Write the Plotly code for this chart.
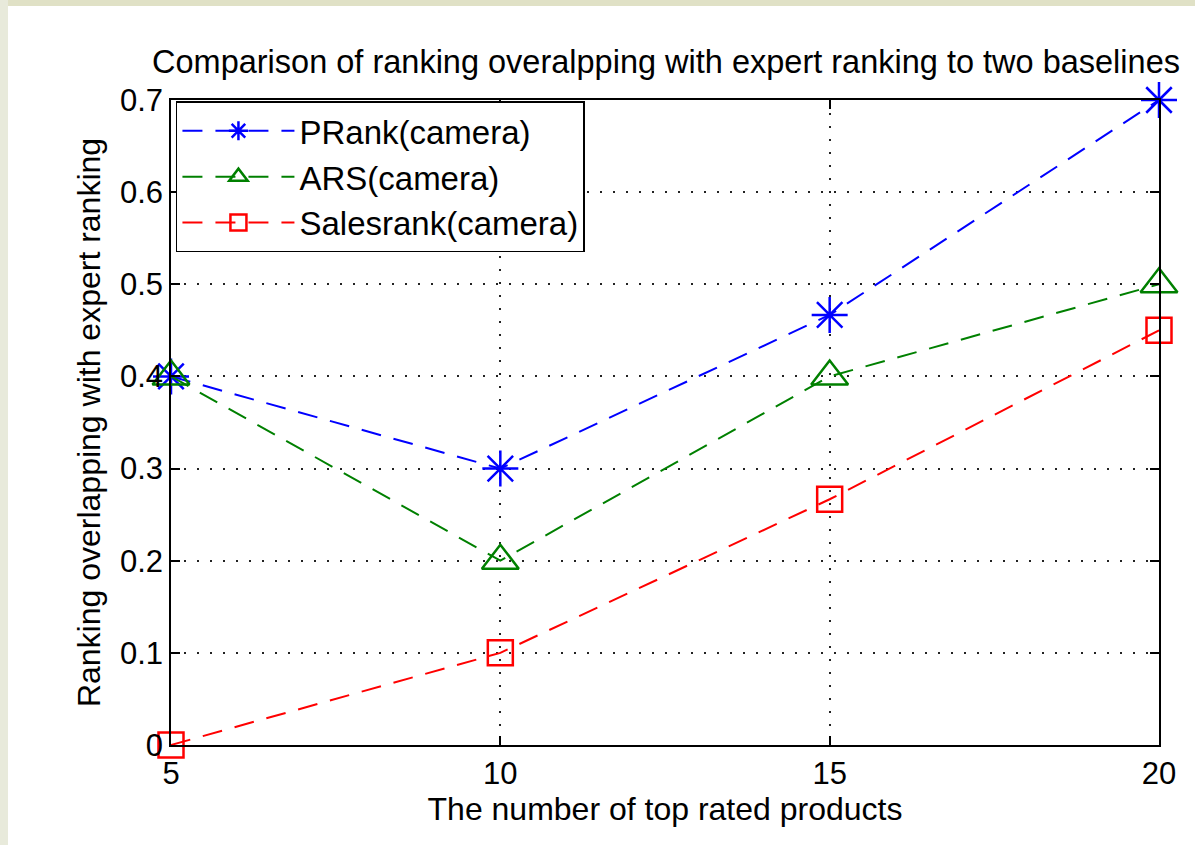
import plotly.graph_objects as go

x_vals = [5, 10, 15, 20]
prank = [0.4, 0.3, 0.4667, 0.7]
ars = [0.4, 0.2, 0.4, 0.5]
salesrank = [0.0, 0.1, 0.2667, 0.45]
names = ["PRank(camera)", "ARS(camera)", "Salesrank(camera)"]
colors = ["#0000ff", "#008000", "#ff0000"]
symbols = ["asterisk-open", "triangle-up-open", "square-open"]
x_ticks = [5, 10, 15, 20]
y_ticks = [0, 0.1, 0.2, 0.3, 0.4, 0.5, 0.6, 0.7]
y_tick_text = ["0", "0.1", "0.2", "0.3", "0.4", "0.5", "0.6", "0.7"]

FONT = "Liberation Sans, Arial, sans-serif"

fig = go.Figure()
sizes = [30, 32, 25]
for name, ys, c, s, sz in zip(names, [prank, ars, salesrank], colors, symbols, sizes):
    fig.add_trace(go.Scatter(
        x=x_vals, y=ys, name=name, mode="lines+markers",
        line=dict(color=c, width=2, dash="20px,13px"),
        marker=dict(symbol=s, size=sz, color=c, line=dict(color=c, width=2.5)),
        cliponaxis=False,
    ))

# background border strips (light beige) at top and left edges
L, R, T, B = 171, 36, 100, 100
W, H = 1195, 845
pw, ph = W - L - R, H - T - B
def px(x):
    return (x - L) / pw
def py(y):
    return (H - B - y) / ph
fig.add_shape(type="rect", xref="paper", yref="paper", x0=px(0), x1=px(W), y0=py(0), y1=py(6),
              fillcolor="#e0e1c6", line=dict(width=0), layer="below")
fig.add_shape(type="rect", xref="paper", yref="paper", x0=px(0), x1=px(8), y0=py(0), y1=py(H),
              fillcolor="#e8eadb", line=dict(width=0), layer="below")

axis_common = dict(
    showline=True, linecolor="black", linewidth=1.5, mirror="allticks",
    ticks="inside", ticklen=9, tickcolor="black", tickwidth=1.5,
    showgrid=True, gridcolor="#222222", griddash="2px,11px", gridwidth=1.5,
    zeroline=False, tickfont=dict(family=FONT, size=31, color="black"),
)

fig.update_xaxes(range=[5, 20], tickvals=x_ticks, title=dict(text="The number of top rated products",
                 font=dict(family=FONT, size=32, color="black"), standoff=6), **axis_common)
fig.update_yaxes(range=[0, 0.7], tickvals=y_ticks, ticktext=y_tick_text,
                 title=dict(text="Ranking overlapping with expert ranking",
                            font=dict(family=FONT, size=32, color="black"), standoff=10), **axis_common)

fig.update_layout(
    width=W, height=H,
    margin=dict(l=L, r=R, t=T, b=B),
    paper_bgcolor="white", plot_bgcolor="white",
    title=dict(text="Comparison of ranking overalpping with expert ranking to two baselines",
               font=dict(family=FONT, size=32.5, color="black"),
               x=(666) / W, xanchor="center", y=1 - 62 / H, yanchor="middle"),
    legend=dict(x=0.005, y=0.998, xanchor="left", yanchor="top",
                bgcolor="white", bordercolor="black", borderwidth=1.5,
                font=dict(family=FONT, size=33, color="black"),
                itemwidth=112, tracegroupgap=0),
    showlegend=True,
)

fig.write_html("out.html")
